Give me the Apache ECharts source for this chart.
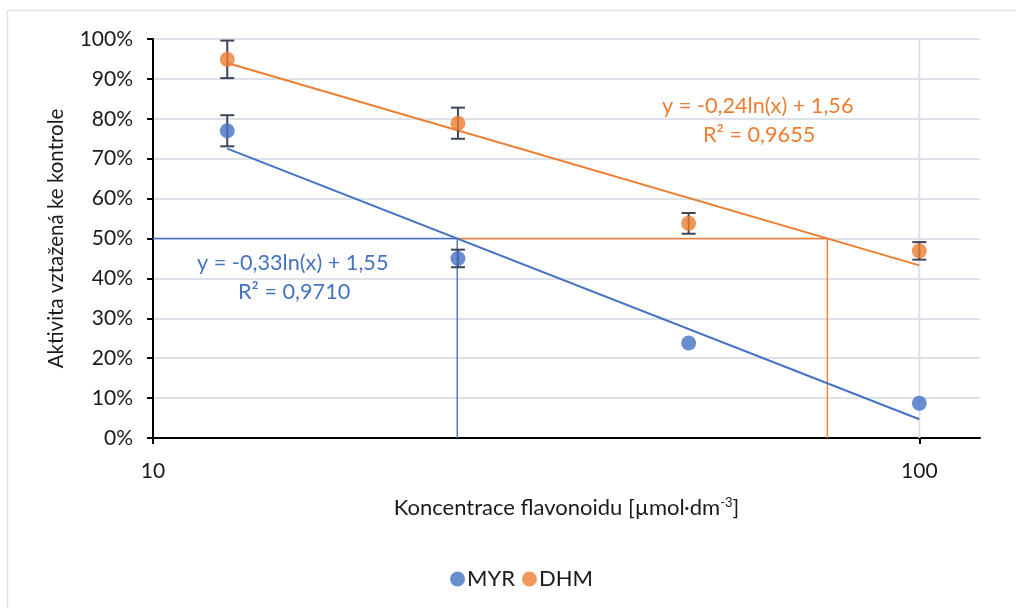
<!DOCTYPE html>
<html>
<head>
<meta charset="utf-8">
<script src="https://cdn.jsdelivr.net/npm/echarts@6/dist/echarts.min.js"></script>
<style>
  html, body { margin: 0; padding: 0; background: #ffffff; }
  #chart { width: 1016px; height: 608px; }
</style>
</head>
<body>
<div id="chart"></div>
<script>
// Concentrations (µmol·dm-3) and activities relative to control (%)
const concentrations = [12.5, 25, 50, 100];
const myrValues = [77, 45, 23.8, 8.7];
const myrErrors = [3.9, 2.2, 0, 0];
const dhmValues = [94.9, 78.9, 53.8, 46.9];
const dhmErrors = [4.7, 3.9, 2.6, 2.2];
const seriesNames = ['MYR', 'DHM'];
const xTickValues = [10, 100];
const myrEquation = ['y = -0,33ln(x) + 1,55', 'R² = 0,9710'];
const dhmEquation = ['y = -0,24ln(x) + 1,56', 'R² = 0,9655'];
const halfActivity = 50;

const BLUE = '#4472C4';
const ORANGE = '#ED7D31';
const ERR = '#3d4658';
const TEXT = '#1a1a1a';
const FONT = 'Lato, "Open Sans", sans-serif';

// Least-squares fit of y = a·ln(x) + b (values in %)
function logFit(xs, ys) {
  const lx = xs.map(Math.log);
  const n = xs.length;
  const mx = lx.reduce((s, v) => s + v, 0) / n;
  const my = ys.reduce((s, v) => s + v, 0) / n;
  let sxy = 0, sxx = 0;
  for (let i = 0; i < n; i++) {
    sxy += (lx[i] - mx) * (ys[i] - my);
    sxx += (lx[i] - mx) * (lx[i] - mx);
  }
  const a = sxy / sxx;
  return { a: a, b: my - a * mx };
}
const myrFit = logFit(concentrations, myrValues);
const dhmFit = logFit(concentrations, dhmValues);
const xFirst = concentrations[0];
const xLast = concentrations[concentrations.length - 1];
const trend = (fit, x) => fit.a * Math.log(x) + fit.b;
// Concentration where the fitted activity falls to 50 %
const ic50 = fit => Math.exp((halfActivity - fit.b) / fit.a);
const myrIc50 = ic50(myrFit);
const dhmIc50 = ic50(dhmFit);

function pairs(values) {
  return concentrations.map((c, i) => [c, values[i]]);
}
function errorData(values, errors) {
  return concentrations.map((c, i) => [c, values[i], errors[i]]);
}

function renderErrorBar(params, api) {
  const x = api.value(0), y = api.value(1), e = api.value(2);
  if (!e) return null;
  const top = api.coord([x, y + e]);
  const bot = api.coord([x, y - e]);
  const cap = 7;
  const style = { stroke: ERR, lineWidth: 2 };
  return {
    type: 'group',
    children: [
      { type: 'line', shape: { x1: top[0], y1: top[1], x2: bot[0], y2: bot[1] }, style: style },
      { type: 'line', shape: { x1: top[0] - cap, y1: top[1], x2: top[0] + cap, y2: top[1] }, style: style },
      { type: 'line', shape: { x1: bot[0] - cap, y1: bot[1], x2: bot[0] + cap, y2: bot[1] }, style: style }
    ]
  };
}

const chart = echarts.init(document.getElementById('chart'), null, { renderer: 'canvas' });

const option = {
  backgroundColor: '#ffffff',
  animation: false,
  textStyle: { fontFamily: FONT },
  grid: { left: 153, right: 36, top: 39, bottom: 170, containLabel: false },
  legend: {
    data: seriesNames,
    top: 563,
    left: 445,
    icon: 'circle',
    itemWidth: 15,
    itemHeight: 15,
    itemGap: 7,
    textStyle: { fontFamily: FONT, fontSize: 22, color: TEXT, padding: [0, 0, 0, -3] }
  },
  xAxis: {
    type: 'log',
    logBase: 10,
    min: 10,
    max: 120,
    name: 'Koncentrace flavonoidu [µmol·dm{sup|-3}]',
    nameLocation: 'middle',
    nameGap: 58,
    nameTextStyle: {
      fontFamily: FONT, fontSize: 22, color: TEXT,
      rich: { sup: { fontFamily: FONT, fontSize: 13, color: TEXT, padding: [0, 0, 10, 0] } }
    },
    axisLine: { show: true, onZero: false, lineStyle: { color: '#000', width: 2 } },
    axisTick: { show: true, customValues: xTickValues, length: 6, lineStyle: { color: '#000', width: 2 } },
    axisLabel: { customValues: xTickValues, margin: 23, fontFamily: FONT, fontSize: 21, color: TEXT },
    splitLine: { show: false }
  },
  yAxis: {
    type: 'value',
    min: 0,
    max: 100,
    interval: 10,
    name: 'Aktivita vztažená ke kontrole',
    nameLocation: 'middle',
    nameGap: 86,
    nameTextStyle: { fontFamily: FONT, fontSize: 20.5, color: TEXT },
    axisLine: { show: true, lineStyle: { color: '#000', width: 2 } },
    axisTick: { show: true, length: 6, lineStyle: { color: '#000', width: 2 } },
    axisLabel: { formatter: '{value}%', margin: 20, fontFamily: FONT, fontSize: 21, color: TEXT },
    splitLine: { show: true, lineStyle: { color: '#dde1e8', width: 2 } }
  },
  graphic: [
    {
      type: 'rect', silent: true, z: -10,
      shape: { x: 7.5, y: 10.5, width: 1100, height: 700 },
      style: { fill: 'none', stroke: '#e0e3ea', lineWidth: 1.5 }
    },
    {
      type: 'text', left: 197, top: 252,
      style: { text: myrEquation[0], fontFamily: FONT, fontSize: 21.7, fill: BLUE }
    },
    {
      type: 'text', left: 238, top: 281,
      style: { text: myrEquation[1], fontFamily: FONT, fontSize: 21.7, fill: BLUE }
    },
    {
      type: 'text', left: 662, top: 95,
      style: { text: dhmEquation[0], fontFamily: FONT, fontSize: 21.7, fill: ORANGE }
    },
    {
      type: 'text', left: 703, top: 124,
      style: { text: dhmEquation[1], fontFamily: FONT, fontSize: 21.7, fill: ORANGE }
    }
  ],
  series: [
    // vertical grid line at the 100 decade
    {
      name: 'grid100', type: 'line', silent: true, symbol: 'none', z: 0,
      data: [[xTickValues[1], 0], [xTickValues[1], 100]],
      lineStyle: { color: '#dde1e8', width: 2 }
    },
    // 50 % read-off lines
    {
      name: 'MYR 50%', type: 'line', silent: true, symbol: 'none', z: 1,
      data: [[10, halfActivity], [myrIc50, halfActivity], [myrIc50, 0]],
      lineStyle: { color: BLUE, width: 1.4 }
    },
    {
      name: 'DHM 50%', type: 'line', silent: true, symbol: 'none', z: 1,
      data: [[myrIc50, halfActivity], [dhmIc50, halfActivity], [dhmIc50, 0]],
      lineStyle: { color: ORANGE, width: 1.4 }
    },
    // logarithmic trendlines
    {
      name: 'MYR trend', type: 'line', silent: true, symbol: 'none', z: 2,
      data: [[xFirst, trend(myrFit, xFirst)], [xLast, trend(myrFit, xLast)]],
      lineStyle: { color: BLUE, width: 2 }
    },
    {
      name: 'DHM trend', type: 'line', silent: true, symbol: 'none', z: 2,
      data: [[xFirst, trend(dhmFit, xFirst)], [xLast, trend(dhmFit, xLast)]],
      lineStyle: { color: ORANGE, width: 2 }
    },
    // error bars
    {
      name: 'MYR err', type: 'custom', silent: true, z: 3,
      renderItem: renderErrorBar, data: errorData(myrValues, myrErrors)
    },
    {
      name: 'DHM err', type: 'custom', silent: true, z: 3,
      renderItem: renderErrorBar, data: errorData(dhmValues, dhmErrors)
    },
    // measured points
    {
      name: seriesNames[0], type: 'scatter', z: 4, symbol: 'circle', symbolSize: 15,
      itemStyle: { color: BLUE }, data: pairs(myrValues)
    },
    {
      name: seriesNames[1], type: 'scatter', z: 4, symbol: 'circle', symbolSize: 15,
      itemStyle: { color: ORANGE }, data: pairs(dhmValues)
    }
  ]
};

chart.setOption(option);
</script>
</body>
</html>
